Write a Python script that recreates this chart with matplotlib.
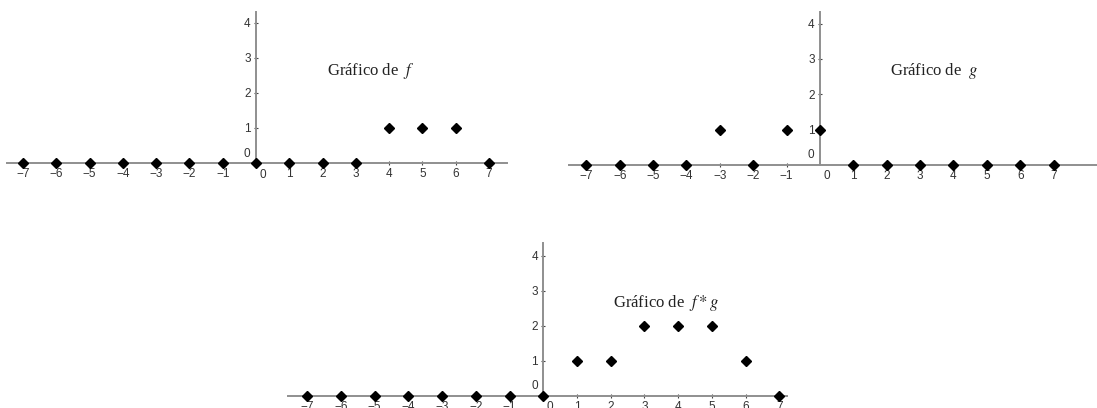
import matplotlib.pyplot as plt

plt.rcParams['mathtext.fontset'] = 'stix'

x = list(range(-7, 8))
f_vals = [0, 0, 0, 0, 0, 0, 0, 0, 0, 0, 0, 1, 1, 1, 0]
g_vals = [0, 0, 0, 0, 1, 0, 1, 1, 0, 0, 0, 0, 0, 0, 0]
fg_vals = [0, 0, 0, 0, 0, 0, 0, 0, 1, 1, 2, 2, 2, 1, 0]
y_ticks = [1, 2, 3, 4]
titles = ["Gráfico de  $f$", "Gráfico de  $g$", "Gráfico de  $f * g$"]

W, H = 1097, 408
fig = plt.figure(figsize=(W / 100, H / 100), dpi=100)

# pixel boxes (left, top, right, bottom) and limits
panels = [
    ((7, 12, 507, 184), (-7.48, 7.54), (-0.6, 4.31), f_vals, titles[0], (2.13, 2.63)),
    ((569, 12, 1097, 186), (-7.52, 8.3), (-0.6, 4.33), g_vals, titles[1], (2.10, 2.66)),
    ((288, 243, 787, 408), (-7.57, 7.23), (-0.35, 4.36), fg_vals, titles[2], (2.08, 2.64)),
]

axis_col = '#8f8f8f'
txt_col = '#333333'
fs = 8.5

for (l, t, r, b), xl, yl, vals, title, tpos in panels:
    ax = fig.add_axes([l / W, 1 - b / H, (r - l) / W, (b - t) / H])
    ax.set_xlim(*xl)
    ax.set_ylim(*yl)
    ax.patch.set_alpha(0)
    for s in ['top', 'right']:
        ax.spines[s].set_visible(False)
    ax.spines['left'].set_position(('data', 0))
    ax.spines['bottom'].set_position(('data', 0))
    ax.spines['left'].set_bounds(0, yl[1])
    for s in ['left', 'bottom']:
        ax.spines[s].set_color(axis_col)
        ax.spines[s].set_linewidth(1.4)

    ax.set_xticks([v for v in x if v != 0])
    ax.set_yticks(y_ticks)
    ax.tick_params(direction='inout', length=2.5, width=0.8, color='#444444',
                   labelsize=fs, labelcolor=txt_col, pad=2.5)
    for lab in ax.get_xticklabels() + ax.get_yticklabels():
        lab.set_family('Liberation Sans')
    ax.annotate('0', (0, 0), xytext=(5, -4), textcoords='offset points',
                ha='center', va='top', fontsize=fs, color=txt_col,
                family='Liberation Sans', annotation_clip=False)
    ax.annotate('0', (0, 0), xytext=(-4, 2.5), textcoords='offset points',
                ha='right', va='bottom', fontsize=fs, color=txt_col,
                family='Liberation Sans', annotation_clip=False)

    ax.plot(x, vals, linestyle='none', marker='D', markersize=5.5,
            color='black', clip_on=False, zorder=5)

    ax.text(tpos[0], tpos[1], title, ha='left', va='center', fontsize=12,
            family='Liberation Serif', color='#222222')

fig.savefig('out.png', dpi=100)
